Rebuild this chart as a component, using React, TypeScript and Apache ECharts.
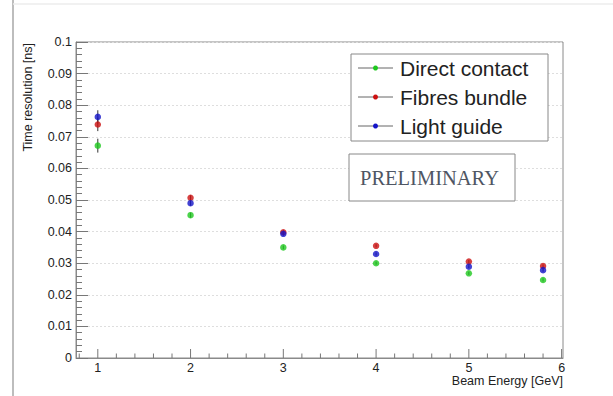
import React, { useEffect, useRef } from "react";
import * as echarts from "echarts";

// ---- data ----
const beamEnergy = [1, 2, 3, 4, 5, 5.8];
const directContact = [0.0672, 0.0452, 0.035, 0.03, 0.0268, 0.0247];
const fibresBundle = [0.0739, 0.0507, 0.0398, 0.0355, 0.0305, 0.0291];
const lightGuide = [0.0763, 0.049, 0.0393, 0.0329, 0.0289, 0.0278];
const directContactErr = [0.0022, 0.0008, 0.0006, 0.0005, 0.0005, 0.0005];
const fibresBundleErr = [0.0021, 0.0008, 0.0006, 0.0005, 0.0005, 0.0005];
const lightGuideErr = [0.0021, 0.0008, 0.0006, 0.0005, 0.0005, 0.0005];
const seriesNames = ["Direct contact", "Fibres bundle", "Light guide"];
const seriesColors = ["#1ec81e", "#cc1010", "#1414c8"];
const xMajorTicks = [1, 2, 3, 4, 5, 6];
const xMinorTicks = [0.8, 1.2, 1.4, 1.6, 1.8, 2.2, 2.4, 2.6, 2.8, 3.2, 3.4, 3.6, 3.8, 4.2, 4.4, 4.6, 4.8, 5.2, 5.4, 5.6, 5.8];
const xTitle = "Beam Energy [GeV]";
const yTitle = "Time resolution [ns]";
const stampText = "PRELIMINARY";

const FONT = "Liberation Sans";

export default function App() {
  const ref = useRef<HTMLDivElement>(null);

  useEffect(() => {
    if (!ref.current) return;
    const chart = echarts.init(ref.current, null, { renderer: "svg" });

    const values = [directContact, fibresBundle, lightGuide];
    const errs = [directContactErr, fibresBundleErr, lightGuideErr];

    const errorSeries = values.map((vals, si) => ({
      type: "custom",
      name: seriesNames[si] + " err",
      silent: true,
      clip: false,
      z: 3,
      data: beamEnergy.map((x, i) => [x, vals[i], errs[si][i]]),
      renderItem: (params: any, api: any) => {
        const x = api.value(0);
        const y = api.value(1);
        const e = api.value(2);
        const top = api.coord([x, y + e]);
        const bot = api.coord([x, y - e]);
        return {
          type: "line",
          shape: { x1: top[0], y1: top[1], x2: bot[0], y2: bot[1] },
          style: { stroke: "#333", lineWidth: 1 },
        };
      },
    }));

    const scatterSeries = values.map((vals, si) => ({
      type: "scatter",
      name: seriesNames[si],
      symbol: "circle",
      symbolSize: 6.5,
      z: 4,
      itemStyle: { color: seriesColors[si] },
      data: beamEnergy.map((x, i) => [x, vals[i]]),
    }));

    const tickSeries = (ticks: number[], len: number) => ({
      type: "custom",
      silent: true,
      clip: false,
      z: 5,
      data: ticks.map((t) => [t, 0]),
      renderItem: (params: any, api: any) => {
        const p = api.coord([api.value(0), 0]);
        return {
          type: "line",
          shape: { x1: p[0], y1: p[1], x2: p[0], y2: p[1] - len },
          style: { stroke: "#777", lineWidth: 1 },
        };
      },
    });

    const legendX = 351;
    const legendY = 54;
    const rowH = 29;
    const legendItems: any[] = [];
    seriesNames.forEach((name, i) => {
      const cy = legendY + 14 + i * rowH;
      legendItems.push({
        type: "line",
        shape: { x1: 358, y1: cy, x2: 393, y2: cy },
        style: { stroke: "#666", lineWidth: 1 },
        z: 20,
      });
      legendItems.push({
        type: "circle",
        shape: { cx: 375.5, cy, r: 2.5 },
        style: { fill: seriesColors[i] },
        z: 21,
      });
      legendItems.push({
        type: "text",
        x: 400,
        y: cy,
        style: {
          text: name,
          fontFamily: FONT,
          fontSize: 21,
          fill: "#222",
          verticalAlign: "middle",
          align: "left",
        },
        z: 21,
      });
    });

    chart.setOption({
      animation: false,
      backgroundColor: "#fff",
      textStyle: { fontFamily: FONT },
      grid: {
        left: 76,
        right: 50,
        top: 42,
        bottom: 38,
        show: true,
        borderColor: "#8a8a8a",
        borderWidth: 1,
      },
      xAxis: {
        type: "value",
        min: 0.765,
        max: 6.015,
        axisLine: { show: true, lineStyle: { color: "#8a8a8a" } },
        axisTick: { show: false },
        minorTick: { show: false },
        splitLine: { show: false },
        axisLabel: {
          margin: 3,
          fontSize: 12.5,
          color: "#222",
          showMinLabel: false,
          showMaxLabel: false,
          formatter: (v: number) =>
            Math.abs(v - Math.round(v)) < 1e-6 ? String(Math.round(v)) : "",
        },
      },
      yAxis: {
        type: "value",
        min: 0,
        max: 0.1,
        interval: 0.01,
        axisLine: { show: true, lineStyle: { color: "#8a8a8a" } },
        axisTick: {
          show: true,
          inside: true,
          length: 12,
          lineStyle: { color: "#777" },
        },
        minorTick: {
          show: true,
          splitNumber: 5,
          length: 6,
          lineStyle: { color: "#777" },
        },
        splitLine: {
          show: true,
          lineStyle: { color: "#dedede", type: [2, 2], width: 1 },
        },
        axisLabel: {
          margin: 4,
          fontSize: 12.5,
          color: "#222",
        },
      },
      graphic: [
        {
          type: "line",
          shape: { x1: 13, y1: 0, x2: 13, y2: 396 },
          style: { stroke: "#bdbdbd", lineWidth: 2 },
          z: 1,
        },
        {
          type: "line",
          shape: { x1: 13, y1: 4, x2: 613, y2: 4 },
          style: { stroke: "#ececec", lineWidth: 1.5 },
          z: 1,
        },
        {
          type: "rect",
          shape: { x: legendX, y: legendY, width: 197, height: 87 },
          style: { fill: "#fff", stroke: "#888", lineWidth: 1 },
          z: 19,
        },
        ...legendItems,
        {
          type: "rect",
          shape: { x: 349, y: 154, width: 166, height: 47 },
          style: { fill: "#fff", stroke: "#888", lineWidth: 1 },
          z: 19,
        },
        {
          type: "text",
          x: 360,
          y: 178,
          style: {
            text: stampText,
            fontFamily: "Liberation Serif",
            fontSize: 20.5,
            fill: "#4f5663",
            verticalAlign: "middle",
            align: "left",
          },
          z: 21,
        },
        {
          type: "text",
          x: 563,
          y: 381,
          style: {
            text: xTitle,
            fontFamily: FONT,
            fontSize: 12.5,
            fill: "#222",
            verticalAlign: "middle",
            align: "right",
          },
          z: 21,
        },
        {
          type: "text",
          x: 28,
          y: 43,
          rotation: Math.PI / 2,
          style: {
            text: yTitle,
            fontFamily: FONT,
            fontSize: 12.5,
            fill: "#222",
            verticalAlign: "middle",
            align: "right",
          },
          z: 21,
        },
      ],
      series: [
        ...errorSeries,
        ...scatterSeries,
        tickSeries(xMajorTicks, 9),
        tickSeries(xMinorTicks, 4.5),
      ],
    });

    return () => chart.dispose();
  }, []);

  return (
    <div
      ref={ref}
      style={{ position: "fixed", left: 0, top: 0, width: 613, height: 396 }}
    />
  );
}
